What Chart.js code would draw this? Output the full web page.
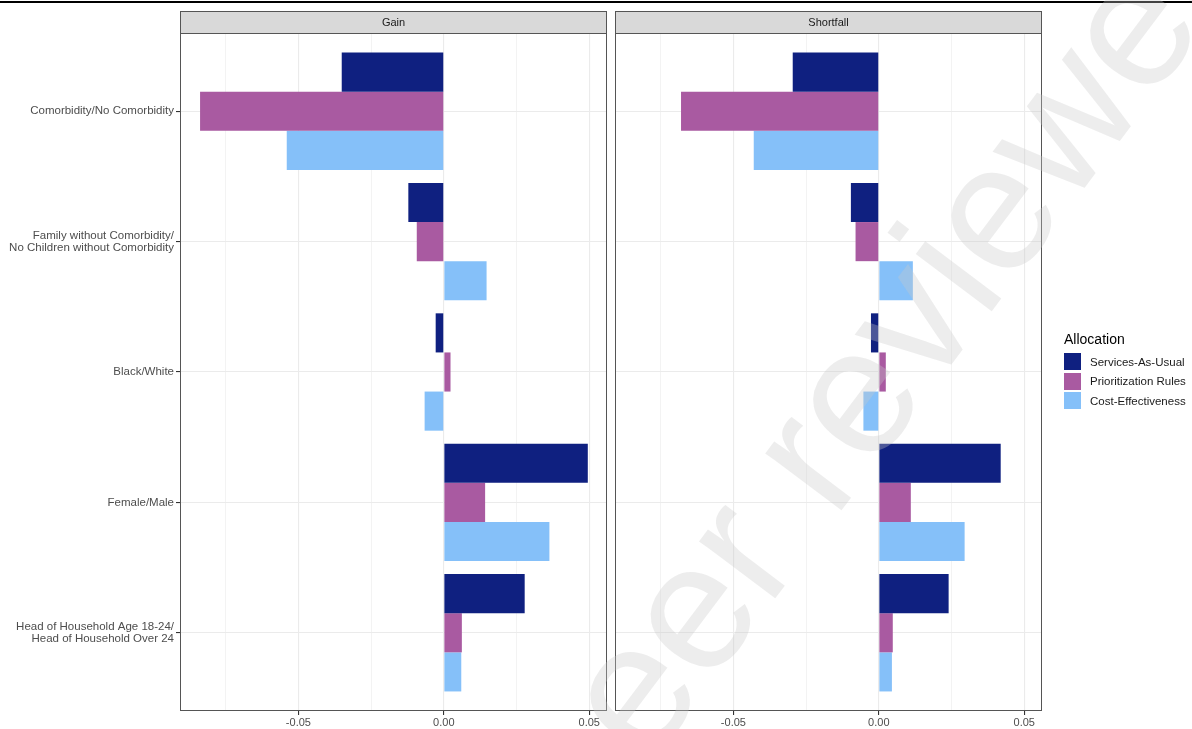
<!DOCTYPE html>
<html>
<head>
<meta charset="utf-8">
<script src="https://cdn.jsdelivr.net/npm/chart.js@4.4.1/dist/chart.umd.min.js"></script>
<style>
  body { margin: 0; background: #fff; width: 1192px; height: 729px; overflow: hidden; position: relative; font-family: 'Liberation Sans', Arial, sans-serif; }
  canvas { position: absolute; top: 0; }
  #topline { position: absolute; left: 0; top: 1px; width: 1192px; height: 2px; background: #000; }
  #legend { position: absolute; left: 1064px; top: 331px; color: #000; }
  #legend .title { font-size: 14px; margin-bottom: 5px; }
  #legend .row { display: flex; align-items: center; height: 19.5px; font-size: 11.5px; color: #1a1a1a; }
  #legend .key { width: 17px; height: 17px; margin-right: 9px; }
  #wm { pointer-events: none; z-index: 5; }
</style>
</head>
<body>
<div id="topline"></div>
<canvas id="gain" width="612" height="729" style="left:0"></canvas>
<canvas id="shortfall" width="580" height="729" style="left:612px"></canvas>
<div id="legend"></div>
<canvas id="wm" width="1192" height="729" style="left:0"></canvas>
<script>
const categories = [
  'Comorbidity/No Comorbidity',
  ['Family without Comorbidity/', 'No Children without Comorbidity'],
  'Black/White',
  'Female/Male',
  ['Head of Household Age 18-24/', 'Head of Household Over 24']
];
const seriesNames = ['Services-As-Usual', 'Prioritization Rules', 'Cost-Effectiveness'];
const seriesColors = ['#0F2080', '#A95AA1', '#85C0F9'];

const gainSAU = [-0.0351, -0.0122, -0.0028, 0.0495, 0.0278];
const gainPR  = [-0.0838, -0.0093, 0.0023, 0.0142, 0.0062];
const gainCE  = [-0.0540, 0.0147, -0.0066, 0.0363, 0.0060];

const shortSAU = [-0.0296, -0.0096, -0.0027, 0.0419, 0.0240];
const shortPR  = [-0.0680, -0.0080, 0.0024, 0.0110, 0.0048];
const shortCE  = [-0.0430, 0.0117, -0.0053, 0.0295, 0.0045];

const xTicks = [-0.075, -0.05, -0.025, 0, 0.025, 0.05];
const xMin = -0.0907, xMax = 0.0561;

const FONT = "'Liberation Sans', Arial, sans-serif";
const isMajor = v => Math.abs(Math.round(v / 0.05) * 0.05 - v) < 1e-9;

// facet strip + panel border
const facetPlugin = {
  id: 'facet',
  afterDraw(chart, args, opts) {
    const {ctx, chartArea: a} = chart;
    ctx.save();
    ctx.fillStyle = '#d9d9d9';
    ctx.fillRect(a.left, a.top - 22, a.right - a.left, 22);
    ctx.strokeStyle = '#555';
    ctx.lineWidth = 1;
    ctx.strokeRect(a.left + 0.5, a.top - 21.5, a.right - a.left - 1, 22);
    ctx.strokeRect(a.left + 0.5, a.top + 0.5, a.right - a.left - 1, a.bottom - a.top - 1);
    ctx.fillStyle = '#1a1a1a';
    ctx.font = '11px ' + FONT;
    ctx.textAlign = 'center';
    ctx.textBaseline = 'middle';
    ctx.fillText(opts.title, (a.left + a.right) / 2, a.top - 10.5);
    ctx.restore();
  }
};

const makeData = (a, b, c) => ({
  datasets: [a, b, c].map((vals, i) => ({
    label: seriesNames[i],
    data: vals.map((v, j) => ({x: v, y: j})),
    backgroundColor: seriesColors[i],
    borderWidth: 0,
    barPercentage: 1,
    categoryPercentage: 0.9
  }))
});

const facet = (elementId, title, data, showLabels, padding) => {
  const el = document.getElementById(elementId);
  return new Chart(el, {
    type: 'bar',
    data: data,
    plugins: [facetPlugin],
    options: {
      indexAxis: 'y',
      responsive: false,
      animation: false,
      layout: { padding: padding },
      plugins: {
        legend: { display: false },
        tooltip: { enabled: false },
        facet: { title: title }
      },
      scales: {
        x: {
          type: 'linear',
          min: xMin,
          max: xMax,
          afterBuildTicks: s => { s.ticks = xTicks.map(v => ({value: v})); },
          afterFit: s => { s.height = 18; },
          border: { display: false },
          grid: {
            color: c => isMajor(c.tick.value) ? '#ebebeb' : '#f3f3f3',
            lineWidth: c => isMajor(c.tick.value) ? 1.1 : 1,
            tickColor: c => isMajor(c.tick.value) ? '#333' : 'rgba(0,0,0,0)',
            tickLength: 4
          },
          ticks: {
            autoSkip: false,
            maxRotation: 0,
            padding: 1,
            color: '#4d4d4d',
            font: { family: FONT, size: 11 },
            callback: v => isMajor(v) ? v.toFixed(2) : ''
          }
        },
        y: {
          type: 'linear',
          reverse: true,
          offset: false,
          min: -0.6,
          max: 4.6,
          afterBuildTicks: s => { s.ticks = categories.map((c, i) => ({value: i})); },
          afterFit: s => { s.width = showLabels ? 180 : 0; },
          border: { display: false },
          grid: {
            offset: false,
            color: '#ebebeb',
            lineWidth: 1.1,
            tickColor: '#333',
            tickLength: 4,
            drawTicks: showLabels
          },
          ticks: {
            display: showLabels,
            autoSkip: false,
            padding: 2,
            color: '#4d4d4d',
            font: { family: FONT, size: 11.5, lineHeight: 1.05 },
            callback: v => categories[v]
          }
        }
      }
    }
  });
};

facet('gain', 'Gain', makeData(gainSAU, gainPR, gainCE), true, {top: 33, right: 5, left: 0, bottom: 0});
facet('shortfall', 'Shortfall', makeData(shortSAU, shortPR, shortCE), false, {top: 33, right: 150, left: 3, bottom: 0});

// legend
const legend = document.getElementById('legend');
legend.innerHTML = '<div class="title">Allocation</div>' + seriesNames.map((n, i) =>
  '<div class="row"><div class="key" style="background:' + seriesColors[i] + '"></div>' + n + '</div>').join('');

// watermark
const wm = document.getElementById('wm').getContext('2d');
wm.save();
wm.translate(587, 848);
wm.rotate(-53 * Math.PI / 180);
wm.font = '180px ' + FONT;
wm.fillStyle = 'rgba(200,200,200,0.33)';
wm.textBaseline = 'alphabetic';
wm.textAlign = 'left';
wm.fillText('peer reviewed', 0, 0);
wm.textAlign = 'right';
wm.fillText('Not ', 0, 0);
wm.restore();
</script>
</body>
</html>
